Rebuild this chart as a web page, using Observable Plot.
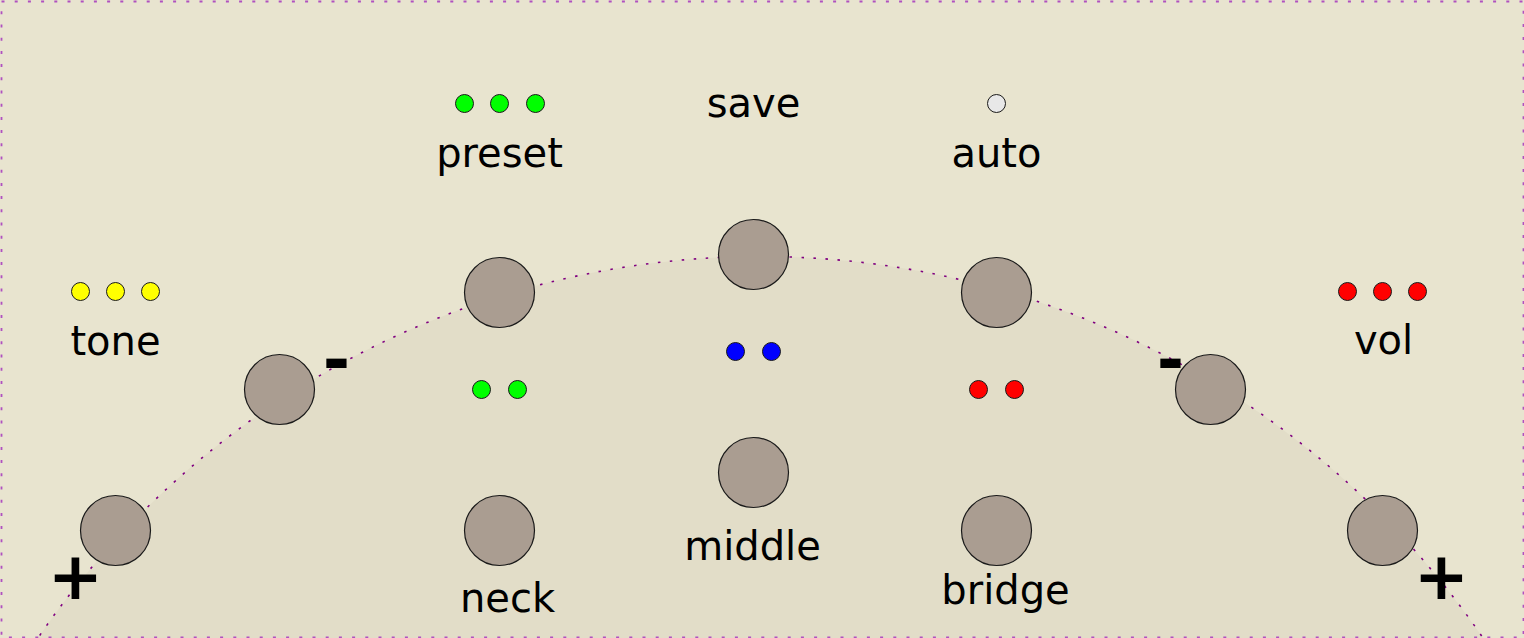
<!DOCTYPE html>
<html>
<head>
<meta charset="utf-8">
<script src="https://cdn.jsdelivr.net/npm/d3@7"></script>
<script src="https://cdn.jsdelivr.net/npm/@observablehq/plot@0.6"></script>
<style>
  html, body { margin: 0; padding: 0; background: #e8e4cf; }
  #chart { width: 1524px; height: 638px; overflow: hidden; }
</style>
</head>
<body>
<div id="chart"></div>
<script>
// Panel arc (circle) centre and radius, in panel coordinates
const arcCenterX = [760];
const arcCenterY = [1131];
const arcRadius = 875;

// Knobs
const knobX = [115, 279, 499, 753, 996, 1210, 1382, 499, 753, 996];
const knobY = [530, 389, 292, 254, 292, 389, 530, 530, 472, 530];

// LEDs
const ledX = [464, 499, 535, 996, 80, 115, 150, 1347, 1382, 1417, 481, 517, 735, 771, 978, 1014];
const ledY = [103, 103, 103, 103, 291, 291, 291, 291, 291, 291, 389, 389, 351, 351, 389, 389];
const ledColor = ["#00ff00", "#00ff00", "#00ff00", "#e8e8e8",
                  "#ffff00", "#ffff00", "#ffff00",
                  "#ff0000", "#ff0000", "#ff0000",
                  "#00ff00", "#00ff00", "#0000ff", "#0000ff", "#ff0000", "#ff0000"];

// Labels
const labelText = ["save", "preset", "auto", "tone", "vol", "middle", "bridge", "neck"];
const labelX = [753, 499, 996, 115, 1383, 752, 1005, 507];
const labelY = [116, 166, 166, 354, 353, 559, 603, 611];

// Signs
const signText = ["-", "-", "+", "+"];
const signX = [336, 1170, 75, 1441];
const signY = [381, 381, 598, 598];

const knobs = knobX.map((x, i) => ({x, y: knobY[i]}));
const leds = ledX.map((x, i) => ({x, y: ledY[i], c: ledColor[i]}));
const labels = labelText.map((t, i) => ({t, x: labelX[i], y: labelY[i]}));
const signs = signText.map((t, i) => ({t, x: signX[i], y: signY[i]}));
const arc = arcCenterX.map((x, i) => ({x, y: arcCenterY[i]}));

const chart = Plot.plot({
  width: 1524,
  height: 638,
  margin: 0,
  x: {domain: [0, 1524], range: [0, 1524], axis: null},
  y: {domain: [0, 638], range: [0, 638], axis: null},
  style: {background: "#e8e4cf", fontFamily: "DejaVu Sans"},
  marks: [
    Plot.dot(arc, {x: "x", y: "y", r: arcRadius, fill: "#e2ddc8", stroke: "#800080",
      strokeWidth: 1.6, strokeDasharray: "2.5,9.5", clip: true}),
    Plot.frame({inset: 1, stroke: "#b050c0", strokeWidth: 1.8, strokeDasharray: "3,10.2"}),
    Plot.dot(knobs, {x: "x", y: "y", r: 35, fill: "#aa9d91", stroke: "#1a1a1a", strokeWidth: 1.2}),
    Plot.dot(leds, {x: "x", y: "y", r: 9, fill: "c", stroke: "#1a1a1a", strokeWidth: 1}),
    Plot.text(labels, {x: "x", y: "y", text: "t", fontSize: 40, fill: "black",
      textAnchor: "middle", lineAnchor: "bottom", fontFamily: "DejaVu Sans"}),
    Plot.text(signs, {x: "x", y: "y", text: "t", fontSize: 66, fontWeight: "bold", fill: "black",
      textAnchor: "middle", lineAnchor: "bottom", fontFamily: "DejaVu Sans"})
  ]
});
document.getElementById("chart").appendChild(chart);
</script>
</body>
</html>
